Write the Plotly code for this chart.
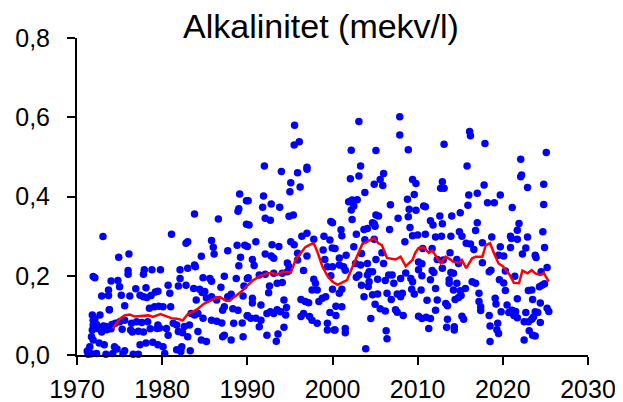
import plotly.graph_objects as go

# --- scatter samples (decimal year, alkalinity mekv/l) ---
pts_1970s = [(1973.05,0.299),(1974.9,0.247),(1976.1,0.255),(1976.0,0.213),(1976.0,0.204),(1977.9,0.215),(1977.8,0.204),(1978.8,0.215),(1979.8,0.215),(1972.1,0.195),(1974.0,0.187),(1974.8,0.188),(1975.0,0.172),(1973.7,0.164),(1976.9,0.167),(1978.1,0.170),(1972.9,0.149),(1973.7,0.150),(1975.2,0.151),(1976.2,0.149),(1977.4,0.151),(1977.8,0.147),(1978.2,0.145),(1978.7,0.150),(1979.2,0.159),(1979.5,0.161),(1975.6,0.124),(1973.8,0.114),(1978.5,0.118),(1979.1,0.122),(1979.6,0.123),(1972.1,0.091),(1972.7,0.101),(1971.9,0.076),(1972.3,0.077),(1973.1,0.073),(1973.4,0.072),(1974.1,0.077),(1974.5,0.080),(1975.0,0.084),(1975.6,0.088),(1976.4,0.080),(1977.0,0.084),(1977.6,0.082),(1978.3,0.084),(1979.5,0.076),(1979.7,0.068),(1972.5,0.066),(1972.9,0.058),(1973.5,0.064),(1974.0,0.066),(1975.3,0.065),(1976.3,0.063),(1976.5,0.058),(1977.2,0.060),(1977.8,0.058),(1978.6,0.066),(1979.4,0.067),(1971.7,0.046),(1971.9,0.038),(1972.6,0.030),(1973.2,0.026),(1974.4,0.021),(1974.7,0.015),(1975.6,0.011),(1977.4,0.026),(1978.1,0.030),(1978.9,0.032),(1979.5,0.026),(1971.3,0.002),(1971.7,0.003),(1972.3,0.004),(1973.4,0.002),(1974.2,0.004),(1975.4,0.004),(1976.6,0.002),(1977.2,0.002),(1971.9,0.198),(1971.8,0.101),(1971.9,0.088),(1971.8,0.063),(1971.5,0.021),(1971.2,0.010),(1973.8,0.114)]

pts_1980s = [(1989.1,0.406),(1989.9,0.389),(1989.0,0.369),(1988.9,0.363),(1983.8,0.356),(1986.6,0.343),(1989.9,0.330),(1981.1,0.305),(1983.0,0.286),(1982.8,0.282),(1985.8,0.289),(1986.0,0.272),(1986.1,0.255),(1987.7,0.263),(1988.8,0.277),(1989.7,0.277),(1989.2,0.247),(1984.6,0.249),(1989.0,0.225),(1982.1,0.215),(1983.0,0.219),(1983.9,0.223),(1983.8,0.227),(1982.1,0.193),(1981.9,0.174),(1982.8,0.176),(1980.7,0.176),(1980.9,0.156),(1981.0,0.122),(1984.8,0.195),(1985.6,0.193),(1985.8,0.186),(1987.3,0.199),(1988.7,0.193),(1989.6,0.174),(1990.1,0.195),(1983.7,0.168),(1984.4,0.166),(1984.7,0.158),(1986.9,0.171),(1985.8,0.147),(1986.4,0.139),(1987.7,0.147),(1988.1,0.153),(1989.5,0.149),(1985.2,0.144),(1985.0,0.160),(1984.0,0.139),(1980.1,0.122),(1983.4,0.105),(1983.8,0.101),(1984.2,0.105),(1984.8,0.093),(1985.8,0.088),(1986.4,0.085),(1987.0,0.081),(1988.4,0.080),(1989.4,0.081),(1990.0,0.099),(1987.1,0.113),(1987.3,0.122),(1988.3,0.117),(1988.9,0.113),(1981.3,0.080),(1981.7,0.076),(1982.6,0.072),(1983.2,0.076),(1980.5,0.067),(1980.7,0.050),(1981.9,0.059),(1982.4,0.056),(1983.0,0.046),(1984.2,0.059),(1984.6,0.038),(1985.2,0.034),(1987.1,0.046),(1987.3,0.050),(1988.1,0.038),(1989.5,0.046),(1981.7,0.013),(1982.2,0.009),(1982.3,0.021),(1983.3,0.011),(1980.3,0.004),(1980.1,0.021)]

pts_1990s = [(1995.55,0.580),(1995.5,0.530),(1996.1,0.538),(1992.0,0.477),(1994.0,0.463),(1995.9,0.460),(1997.0,0.474),(1997.0,0.469),(1995.1,0.435),(1995.0,0.412),(1996.2,0.424),(1991.9,0.401),(1991.8,0.373),(1992.8,0.381),(1993.8,0.373),(1990.1,0.389),(1992.1,0.345),(1992.7,0.340),(1994.9,0.350),(1995.4,0.353),(1990.2,0.328),(1999.8,0.337),(1996.4,0.300),(1997.0,0.307),(1997.8,0.292),(1999.0,0.300),(1999.7,0.290),(1991.0,0.286),(1992.9,0.278),(1993.7,0.274),(1995.1,0.286),(1995.5,0.278),(1992.1,0.255),(1992.8,0.250),(1993.1,0.244),(1990.0,0.274),(1990.6,0.241),(1990.8,0.226),(1995.9,0.257),(1997.0,0.250),(1998.9,0.265),(1999.97,0.270),(1994.7,0.232),(1994.9,0.223),(1995.9,0.240),(1999.1,0.241),(1999.4,0.223),(1999.8,0.200),(1996.6,0.213),(1990.0,0.193),(1991.4,0.202),(1992.1,0.204),(1993.1,0.206),(1994.1,0.206),(1994.7,0.210),(1997.8,0.191),(1998.0,0.181),(1998.2,0.164),(1997.6,0.164),(1992.6,0.174),(1993.5,0.181),(1994.1,0.183),(1992.5,0.157),(1990.6,0.143),(1990.6,0.131),(1991.6,0.126),(1994.3,0.139),(1994.6,0.120),(1996.3,0.140),(1996.8,0.135),(1997.2,0.132),(1998.4,0.135),(1998.8,0.143),(1999.2,0.147),(1999.7,0.107),(1990.0,0.099),(1990.4,0.093),(1991.0,0.093),(1991.6,0.088),(1992.3,0.105),(1992.7,0.109),(1993.1,0.105),(1993.5,0.114),(1993.9,0.109),(1994.5,0.101),(1996.3,0.097),(1996.6,0.105),(1997.3,0.097),(1997.6,0.088),(1998.2,0.080),(1999.4,0.080),(2000.2,0.063),(1991.4,0.071),(1994.3,0.070),(1999.4,0.063),(1992.3,0.050),(1993.6,0.053),(1993.4,0.035)]

pts_2000s = [(2007.9,0.601),(2003.1,0.589),(2007.9,0.555),(2002.2,0.517),(2005.1,0.516),(2008.9,0.518),(2003.3,0.477),(2003.1,0.452),(2002.1,0.445),(2006.0,0.458),(2005.6,0.443),(2005.9,0.428),(2004.9,0.431),(2009.4,0.443),(2009.8,0.433),(2003.8,0.410),(2009.6,0.405),(2008.8,0.393),(2001.9,0.387),(2002.3,0.391),(2002.9,0.392),(2002.5,0.376),(2002.2,0.366),(2006.8,0.379),(2009.0,0.368),(2009.8,0.365),(2005.1,0.353),(2005.4,0.351),(2007.7,0.345),(2008.9,0.349),(2002.3,0.342),(2004.7,0.334),(2004.9,0.331),(2000.0,0.334),(2001.0,0.316),(2001.1,0.301),(2003.7,0.317),(2004.1,0.319),(2005.0,0.325),(2006.7,0.317),(2009.1,0.322),(2002.8,0.305),(2003.8,0.291),(2004.9,0.292),(2008.5,0.286),(2009.4,0.301),(2010.0,0.303),(2000.3,0.269),(2002.5,0.273),(2003.4,0.256),(2001.6,0.252),(2000.8,0.245),(2005.8,0.258),(2005.1,0.241),(2006.0,0.231),(2000.0,0.223),(2000.8,0.227),(2001.3,0.223),(2001.5,0.214),(2002.7,0.231),(2003.3,0.227),(2004.1,0.231),(2004.3,0.210),(2004.7,0.210),(2004.1,0.202),(2003.1,0.202),(2002.8,0.196),(2005.3,0.191),(2006.2,0.188),(2006.6,0.202),(2007.0,0.202),(2007.2,0.181),(2008.0,0.193),(2008.6,0.207),(2009.2,0.193),(2009.4,0.185),(2010.1,0.215),(2003.4,0.176),(2004.3,0.185),(2004.2,0.173),(2000.0,0.166),(2000.8,0.156),(2001.1,0.166),(2003.7,0.147),(2004.7,0.152),(2005.3,0.154),(2006.4,0.156),(2006.9,0.140),(2007.6,0.154),(2008.2,0.156),(2008.0,0.147),(2009.3,0.166),(2009.6,0.154),(2000.4,0.123),(2001.1,0.122),(2005.0,0.128),(2005.6,0.117),(2006.2,0.111),(2007.4,0.114),(2007.6,0.108),(2008.3,0.100),(2000.4,0.100),(2004.5,0.092),(2000.3,0.063),(2001.5,0.067),(2001.5,0.056),(2006.3,0.061),(2006.4,0.041),(2003.9,0.016)]

pts_2010s = [(2016.1,0.564),(2016.2,0.553),(2013.1,0.532),(2017.9,0.534),(2015.8,0.477),(2012.9,0.437),(2012.7,0.421),(2013.1,0.421),(2017.8,0.429),(2017.0,0.408),(2016.0,0.404),(2015.9,0.378),(2018.2,0.384),(2019.0,0.384),(2019.7,0.404),(2010.7,0.376),(2010.9,0.374),(2015.0,0.359),(2014.0,0.351),(2012.6,0.351),(2011.5,0.339),(2011.8,0.328),(2012.9,0.331),(2017.0,0.334),(2016.8,0.314),(2010.9,0.305),(2012.1,0.298),(2012.8,0.300),(2013.9,0.300),(2014.9,0.311),(2015.2,0.300),(2018.7,0.298),(2010.6,0.269),(2011.7,0.269),(2010.1,0.235),(2015.7,0.282),(2016.2,0.280),(2017.6,0.283),(2016.6,0.266),(2013.8,0.258),(2013.0,0.240),(2012.3,0.241),(2010.5,0.230),(2012.9,0.219),(2014.6,0.241),(2014.8,0.231),(2017.6,0.233),(2018.4,0.210),(2018.6,0.214),(2019.5,0.252),(2019.7,0.273),(2013.9,0.208),(2014.2,0.206),(2011.7,0.213),(2011.9,0.208),(2010.5,0.200),(2011.5,0.190),(2013.7,0.190),(2013.7,0.181),(2014.6,0.181),(2016.4,0.185),(2016.8,0.181),(2017.2,0.156),(2019.6,0.190),(2010.4,0.164),(2012.1,0.168),(2015.0,0.162),(2015.6,0.168),(2014.2,0.164),(2014.4,0.140),(2014.8,0.145),(2015.1,0.150),(2011.1,0.138),(2012.3,0.139),(2013.3,0.130),(2013.5,0.124),(2017.2,0.135),(2017.4,0.122),(2017.4,0.112),(2019.1,0.143),(2019.2,0.129),(2019.8,0.109),(2012.1,0.113),(2010.1,0.098),(2010.5,0.092),(2011.0,0.095),(2011.5,0.092),(2013.5,0.090),(2015.2,0.098),(2015.4,0.090),(2018.4,0.100),(2011.3,0.067),(2013.4,0.070),(2014.3,0.071),(2014.3,0.063),(2018.5,0.073),(2019.4,0.080),(2019.3,0.064),(2019.5,0.054),(2018.5,0.034)]

pts_2020s = [(2025.1,0.511),(2022.1,0.494),(2022.1,0.450),(2022.2,0.454),(2022.9,0.423),(2024.8,0.431),(2024.8,0.380),(2021.1,0.372),(2021.9,0.332),(2021.7,0.315),(2020.9,0.300),(2021.0,0.294),(2022.9,0.298),(2024.7,0.311),(2024.9,0.271),(2020.9,0.271),(2021.7,0.292),(2022.7,0.270),(2022.3,0.255),(2023.8,0.252),(2023.9,0.246),(2020.1,0.250),(2025.2,0.221),(2024.5,0.210),(2020.3,0.212),(2021.4,0.199),(2023.4,0.164),(2023.0,0.163),(2024.3,0.172),(2024.6,0.176),(2024.9,0.180),(2020.1,0.182),(2020.3,0.163),(2021.7,0.142),(2023.5,0.140),(2024.4,0.131),(2025.2,0.118),(2025.4,0.110),(2020.5,0.126),(2020.7,0.107),(2021.1,0.113),(2021.5,0.110),(2021.3,0.100),(2021.7,0.094),(2022.7,0.107),(2023.8,0.109),(2024.1,0.107),(2024.4,0.082),(2022.5,0.084),(2023.0,0.084),(2023.4,0.090),(2023.6,0.096),(2023.1,0.061),(2023.5,0.050),(2023.8,0.048),(2022.5,0.038)]

# --- moving average (red line) ---
ma_year = [1974.2,1975.0,1975.6,1976.2,1976.8,1977.8,1978.4,1978.9,1979.4,1979.8,1980.6,1981.1,1981.9,1982.4,1983.0,1983.5,1984.1,1984.9,1985.6,1986.4,1986.8,1987.5,1987.9,1988.5,1989.3,1990.0,1990.7,1991.6,1992.3,1992.9,1993.5,1994.2,1995.1,1995.7,1996.3,1996.8,1997.3,1997.8,1998.2,1998.8,1999.4,2000.0,2000.6,2001.7,2002.3,2002.9,2003.5,2004.1,2004.9,2005.4,2005.8,2006.4,2007.4,2008.0,2008.6,2009.4,2009.7,2010.1,2010.7,2011.3,2011.7,2012.7,2013.3,2013.9,2014.2,2014.8,2015.2,2015.7,2016.4,2016.8,2017.6,2018.0,2018.5,2019.0,2019.5,2020.0,2020.7,2021.3,2021.9,2022.3,2022.9,2023.4,2023.8,2024.4,2024.8,2025.4]
ma_value = [0.067,0.091,0.100,0.102,0.097,0.100,0.100,0.096,0.099,0.103,0.097,0.093,0.091,0.087,0.103,0.108,0.115,0.129,0.136,0.145,0.146,0.137,0.137,0.147,0.160,0.175,0.189,0.200,0.206,0.207,0.203,0.210,0.208,0.242,0.257,0.272,0.278,0.282,0.262,0.224,0.200,0.185,0.177,0.189,0.220,0.248,0.280,0.286,0.295,0.282,0.277,0.245,0.241,0.248,0.224,0.240,0.257,0.270,0.272,0.258,0.264,0.232,0.248,0.240,0.235,0.233,0.240,0.219,0.244,0.248,0.248,0.277,0.282,0.255,0.231,0.224,0.206,0.182,0.181,0.213,0.206,0.214,0.206,0.202,0.207,0.185]

x_ticks = [1970, 1980, 1990, 2000, 2010, 2020, 2030]
y_ticks = [0.0, 0.2, 0.4, 0.6, 0.8]
title_text = "Alkalinitet (mekv/l)"

all_pts = pts_1970s + pts_1980s + pts_1990s + pts_2000s + pts_2010s + pts_2020s
sample_year = [p[0] for p in all_pts]
sample_value = [p[1] for p in all_pts]

FONT = "Arial, 'Liberation Sans', sans-serif"

fig = go.Figure()
fig.add_trace(go.Scatter(x=sample_year, y=sample_value, mode="markers",
                         marker=dict(color="#0000FF", size=7.5, line=dict(width=0)),
                         showlegend=False, hoverinfo="x+y", cliponaxis=False))
fig.add_trace(go.Scatter(x=ma_year, y=ma_value, mode="lines",
                         line=dict(color="#FF0000", width=2.5),
                         showlegend=False))

axis_common = dict(showline=True, linecolor="black", linewidth=2,
                   ticks="outside", ticklen=8, tickwidth=2, tickcolor="black",
                   showgrid=False, zeroline=False, mirror=False, automargin=False,
                   tickfont=dict(family=FONT, size=25, color="black"))

fig.update_xaxes(range=[1970, 2030], tickvals=x_ticks, ticklabelstandoff=3, **axis_common)
fig.update_yaxes(range=[0, 0.8], tickvals=y_ticks, tickformat=".1f", ticklabelstandoff=12, **axis_common)

# page body has an 8px default margin, so the figure is sized to fit the 623x402 window
fig.update_layout(
    width=615, height=394,
    margin=dict(l=69, r=35, t=30, b=47, autoexpand=False),
    paper_bgcolor="white", plot_bgcolor="white",
    separators=", ",
    title=dict(text=title_text, x=0.509, xanchor="center", xref="container",
               y=0.954, yanchor="middle", yref="container",
               font=dict(family=FONT, size=34, color="black")),
)

fig.write_html("out.html")
